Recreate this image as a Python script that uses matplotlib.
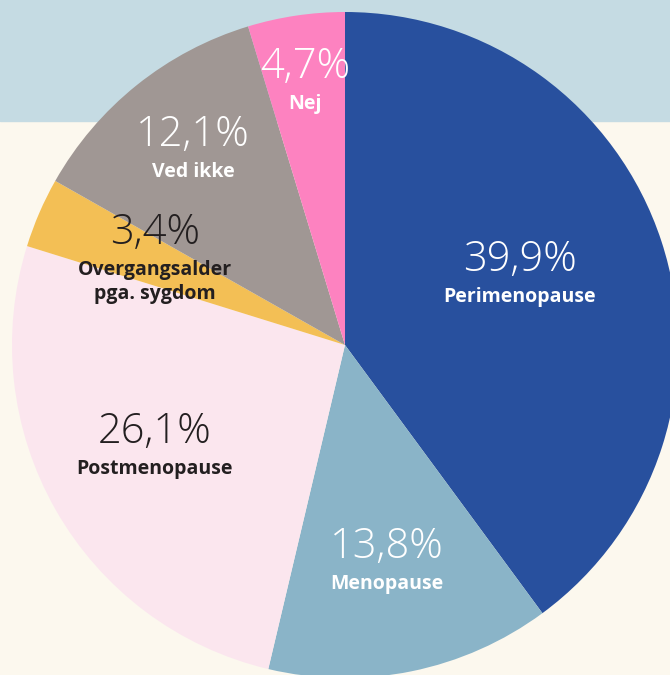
import matplotlib
matplotlib.use("Agg")
import matplotlib.pyplot as plt
from matplotlib.patches import Rectangle

# data
labels = ["Perimenopause", "Menopause", "Postmenopause",
          "Overgangsalder\npga. sygdom", "Ved ikke", "Nej"]
values = [39.9, 13.8, 26.1, 3.4, 12.1, 4.7]
colors = ["#28509e", "#8ab4c8", "#fbe6ee", "#f3bf55", "#a09794", "#fd82c0"]
text_colors = ["white", "white", "#231f20", "#231f20", "white", "white"]

# label anchor points in pixel coords (from top-left)
label_pos = [(520, 260), (387, 547), (155, 432), (155, 233), (193, 135), (305, 67)]

W, H = 670, 675


def fmt(v):
    return f"{v:.1f}".replace(".", ",") + "%"


fig = plt.figure(figsize=(W / 100, H / 100), dpi=100)
ax = fig.add_axes([0, 0, 1, 1])

# background bands
ax.add_patch(Rectangle((0, 0), W, H, color="#fcf8ee", zorder=0))
ax.add_patch(Rectangle((0, H - 121), W, 121, color="#c5dbe3", zorder=0))

wedges, _ = ax.pie(values, colors=colors, startangle=90, counterclock=False,
                   center=(345, H - 345), radius=333,
                   wedgeprops=dict(linewidth=0), frame=True)
for w in wedges:
    w.set_zorder(1)

ax.set_xlim(0, W)
ax.set_ylim(0, H)
ax.axis("off")

for v, lab, tc, (x, y) in zip(values, labels, text_colors, label_pos):
    ax.text(x, H - y, fmt(v), ha="center", va="center", color=tc,
            fontsize=30, family="Open Sans", fontweight="light", zorder=3)
    ax.text(x, H - y - 27, lab, ha="center", va="top", color=tc,
            fontsize=14, family="Open Sans", fontweight="bold",
            linespacing=1.25, zorder=3)

fig.savefig("out.png", dpi=100)
